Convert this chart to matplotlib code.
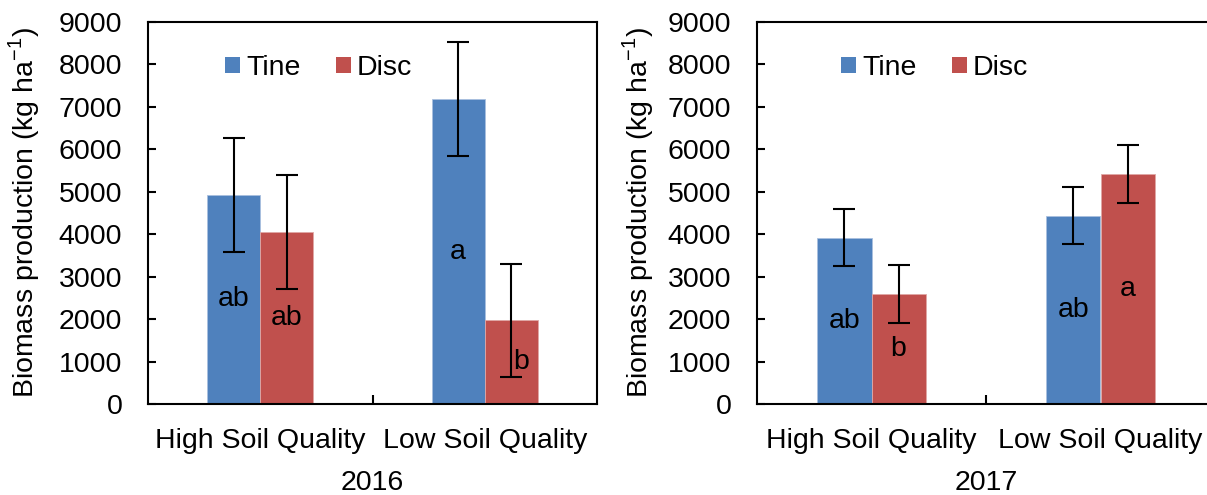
import matplotlib
matplotlib.use("Agg")
import matplotlib.pyplot as plt
from matplotlib.patches import Patch

plt.rcParams['font.family'] = ['Liberation Sans', 'DejaVu Sans']

categories = ["High Soil Quality", "Low Soil Quality"]
years = ["2016", "2017"]
treatments = ["Tine", "Disc"]

# Biomass means (kg ha-1) per year: [High, Low]
tine_2016 = [4930, 7180]
disc_2016 = [4060, 1970]
tine_2017 = [3920, 4440]
disc_2017 = [2600, 5420]

# Error bar half-lengths
tine_err_2016 = [1340, 1340]
disc_err_2016 = [1340, 1340]
tine_err_2017 = [680, 680]
disc_err_2017 = [680, 680]

# Significance letters
tine_letters_2016 = ["ab", "a"]
disc_letters_2016 = ["ab", "b"]
tine_letters_2017 = ["ab", "ab"]
disc_letters_2017 = ["b", "a"]

blue = "#4F81BD"
red = "#C0504D"
FS = 20.5

fig = plt.figure(figsize=(12.07, 4.95), dpi=100)
W, H = 1207, 495


def panel(left_px, right_px, year, tine, disc, terr, derr, tl, dl, letter_dx,
          ylabel_px, legend_px):
    width_px = right_px - left_px
    ax = fig.add_axes([left_px / W, (H - 404) / H, width_px / W, 382 / H])
    bw = 0.237
    xs = [0, 1]
    xt = [x - bw / 2 for x in xs]
    xd = [x + bw / 2 for x in xs]
    ax.bar(xt, tine, width=bw, color=blue, edgecolor="#A9BFDF", linewidth=0.6, zorder=2)
    ax.bar(xd, disc, width=bw, color=red, edgecolor="#E0A8A6", linewidth=0.6, zorder=2)
    ax.errorbar(xt, tine, yerr=terr, fmt="none", ecolor="black", elinewidth=1.5,
                capsize=8, capthick=1.5, zorder=3)
    ax.errorbar(xd, disc, yerr=derr, fmt="none", ecolor="black", elinewidth=1.5,
                capsize=8, capthick=1.5, zorder=3)
    for i in range(2):
        ax.text(xt[i], tine[i] / 2, tl[i], ha="center", va="center", fontsize=FS, zorder=4)
        ax.text(xd[i] + letter_dx[i], disc[i] / 2, dl[i], ha="center", va="center",
                fontsize=FS, zorder=4)
    ax.set_xlim(-0.5, 1.5)
    ax.set_ylim(0, 9000)
    ax.set_yticks(range(0, 9001, 1000))
    ax.set_xticks(xs)
    ax.set_xticklabels(categories, fontsize=FS)
    ax.set_xticks([0.5], minor=True)
    ax.tick_params(axis="x", which="major", length=0, pad=17.5)
    ax.tick_params(axis="x", which="minor", direction="in", length=6.5, width=1.5)
    ax.tick_params(axis="y", direction="in", length=6, width=1.5, labelsize=FS, pad=18.5)
    for s in ax.spines.values():
        s.set_linewidth(1.5)
    ax.set_xlabel(year, fontsize=FS, labelpad=11.5)
    ax.set_ylabel("Biomass production (kg ha$^{\\mathregular{-1}}$)", fontsize=FS)
    ax.yaxis.set_label_coords(-ylabel_px / width_px, 0.5)
    handles = [Patch(facecolor=blue, label=treatments[0]),
               Patch(facecolor=red, label=treatments[1])]
    ax.legend(handles=handles, loc="center left", frameon=False, ncol=2,
              bbox_to_anchor=(legend_px / width_px, (404 - 68) / 382),
              fontsize=FS, handlelength=0.52, handleheight=0.52, handletextpad=0.22,
              columnspacing=1.25, borderpad=0, borderaxespad=0)
    return ax


panel(148, 597, years[0], tine_2016, disc_2016, tine_err_2016, disc_err_2016,
      tine_letters_2016, disc_letters_2016, [0, 0.045], 106, 77)
panel(757, 1215, years[1], tine_2017, disc_2017, tine_err_2017, disc_err_2017,
      tine_letters_2017, disc_letters_2017, [0, 0], 101, 84)

fig.savefig("out.png", dpi=100)
